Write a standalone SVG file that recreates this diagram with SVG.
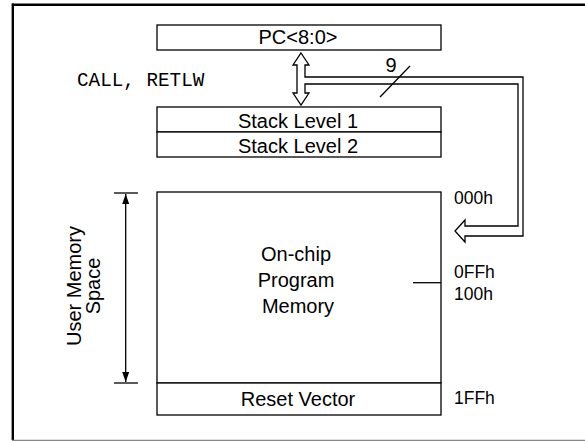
<svg xmlns="http://www.w3.org/2000/svg" width="585" height="441" viewBox="0 0 585 441">
<style>
.box{fill:#fff;stroke:#000;stroke-width:1.3}
.t{font-family:"Liberation Sans",Arial,sans-serif;font-size:20px;fill:#000;text-anchor:middle}
.a{font-family:"Liberation Sans",Arial,sans-serif;font-size:17.5px;fill:#000}
.m{font-family:"Liberation Mono","Courier New",monospace;font-size:19.3px;fill:#000}
.ln{stroke:#000;stroke-width:1.3;fill:none}
</style>
<defs>
<marker id="ah" viewBox="0 0 10 10" refX="10" refY="5" markerWidth="10" markerHeight="10" markerUnits="userSpaceOnUse" orient="auto-start-reverse">
<path d="M0,1.5 L10,5 L0,8.5 Z" fill="#000"/>
</marker>
</defs>
<rect width="585" height="441" fill="#fff"/>
<g id="frame">
<line x1="12" y1="4.7" x2="585" y2="4.7" stroke="#000" stroke-width="2.4"/>
<line x1="12.8" y1="3.5" x2="12.8" y2="440" stroke="#000" stroke-width="2.4"/>
<line x1="12" y1="440.3" x2="585" y2="440.3" stroke="#888" stroke-width="1.2"/>
</g>
<g id="pc">
<rect class="box" x="157" y="25" width="284" height="25"/>
<text class="t" x="298" y="43.5">PC&lt;8:0&gt;</text>
</g>
<g id="stack1">
<rect class="box" x="157" y="107" width="284" height="25"/>
<text class="t" x="298" y="128.3">Stack Level 1</text>
</g>
<g id="stack2">
<rect class="box" x="157" y="132" width="284" height="25"/>
<text class="t" x="298" y="152.6">Stack Level 2</text>
</g>
<g id="memory">
<rect class="box" x="157" y="192" width="284" height="191"/>
<text class="t" x="296" y="260.7">On-chip</text>
<text class="t" x="296" y="286.7">Program</text>
<text class="t" x="298" y="312.7">Memory</text>
<line class="ln" x1="413" y1="282.7" x2="441" y2="282.7"/>
</g>
<g id="reset">
<rect class="box" x="157" y="383" width="284" height="32"/>
<text class="t" x="298" y="406">Reset Vector</text>
</g>
<g id="labels">
<text class="m" x="77" y="85.7">CALL, RETLW</text>
<text class="a" x="454" y="204">000h</text>
<text class="a" x="454" y="278">0FFh</text>
<text class="a" x="454" y="300">100h</text>
<text class="a" x="454" y="404">1FFh</text>
<text class="t" x="391" y="72">9</text>
<text class="t" transform="translate(80.7,286) rotate(-90)" x="0" y="0">User Memory</text>
<text class="t" transform="translate(100,286) rotate(-90)" x="0" y="0">Space</text>
</g>
<g id="connectors">
<polygon class="box" points="301,53 309,65 305,65 305,77 523,77 523,236 465,236 465,242 455,231 465,220 465,226 518,226 518,84 305,84 305,93 309,93 301,105 293,93 297,93 297,65 293,65"/>
<line class="ln" x1="380" y1="97" x2="410" y2="66"/>
<line class="ln" x1="114" y1="193" x2="138" y2="193"/>
<line class="ln" x1="114" y1="383" x2="138" y2="383"/>
<line class="ln" x1="125.7" y1="194" x2="125.7" y2="382" marker-start="url(#ah)" marker-end="url(#ah)"/>
</g>
</svg>
